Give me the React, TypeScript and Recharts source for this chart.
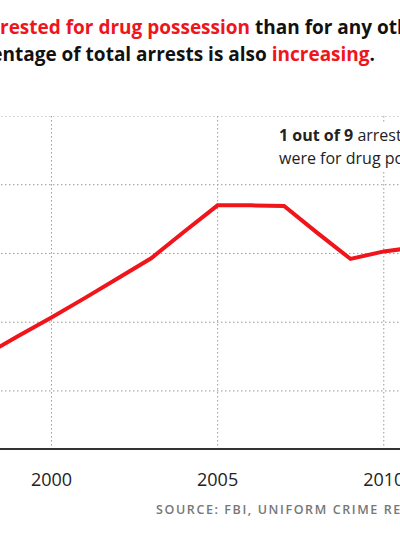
import { LineChart, Line, XAxis, YAxis, CartesianGrid } from "recharts";

// share of all arrests that were for drug possession (%)
const years = [1998, 1999, 2000, 2001, 2002, 2003, 2004, 2005, 2006, 2007, 2008, 2009, 2010, 2011];
const possessionShare = [8.52, 8.8, 9.07, 9.35, 9.64, 9.93, 10.32, 10.7, 10.7, 10.69, 10.3, 9.92, 10.03, 10.09];
const yearTicks = [2000, 2005, 2010];
const shareTicks = [8, 9, 10, 11, 12];

const data = years.map((year, i) => ({ year, share: possessionShare[i] }));

const FONT = "'Open Sans', 'Noto Sans', sans-serif";
const RED = "#f0141b";

const headline = { position: "absolute", whiteSpace: "nowrap", fontSize: 19, lineHeight: "27px", fontWeight: 700, color: "#111" } as const;

export default function App() {
    return (
        <div style={{ position: "relative", width: 400, height: 533, overflow: "hidden", background: "#fff", fontFamily: FONT }}>
            <style>{"body{margin:0}"}</style>

            {/* headline, cropped on both sides */}
            <div style={{ ...headline, top: 14, right: 400 }}>
                More people are <span style={{ color: RED }}>ar</span>
            </div>
            <div style={{ ...headline, top: 14, left: 0 }}>
                <span style={{ color: RED }}>rested for drug possession</span> than for any other crime.
            </div>
            <div style={{ ...headline, top: 41, right: 25 }}>
                The percentage of total arrests is also <span style={{ color: RED }}>increasing</span>.
            </div>

            <div style={{ position: "absolute", top: 116, left: -15 }}>
                <LineChart width={432} height={383} data={data} margin={{ top: 0, right: 0, bottom: 0, left: 0 }}>
                    <CartesianGrid stroke="#999" strokeDasharray="1.5 2.5" />
                    <XAxis
                        dataKey="year"
                        type="number"
                        domain={[1998, 2011]}
                        ticks={yearTicks}
                        interval={0}
                        axisLine={{ stroke: "#333", strokeWidth: 2 }}
                        tickLine={false}
                        tickMargin={18}
                        height={50}
                        tick={{ fontSize: 18, fill: "#222", fontFamily: FONT }}
                    />
                    <YAxis hide domain={[7.155, 12]} ticks={shareTicks} allowDataOverflow />
                    <Line type="linear" dataKey="share" stroke={RED} strokeWidth={4} dot={false} isAnimationActive={false} />
                </LineChart>
            </div>

            {/* annotation */}
            <div style={{ position: "absolute", top: 122, left: 273, padding: "2px 6px", background: "#fff", whiteSpace: "nowrap", fontSize: 16, lineHeight: "23px", color: "#222" }}>
                <div><b>1 out of 9</b> arrests in 2012</div>
                <div>were for drug possession.</div>
            </div>

            <div style={{ position: "absolute", top: 501, left: 156, whiteSpace: "nowrap", fontSize: 12.5, fontWeight: 600, letterSpacing: 1.6, color: "#777" }}>
                SOURCE: FBI, UNIFORM CRIME REPORTS
            </div>
        </div>
    );
}
